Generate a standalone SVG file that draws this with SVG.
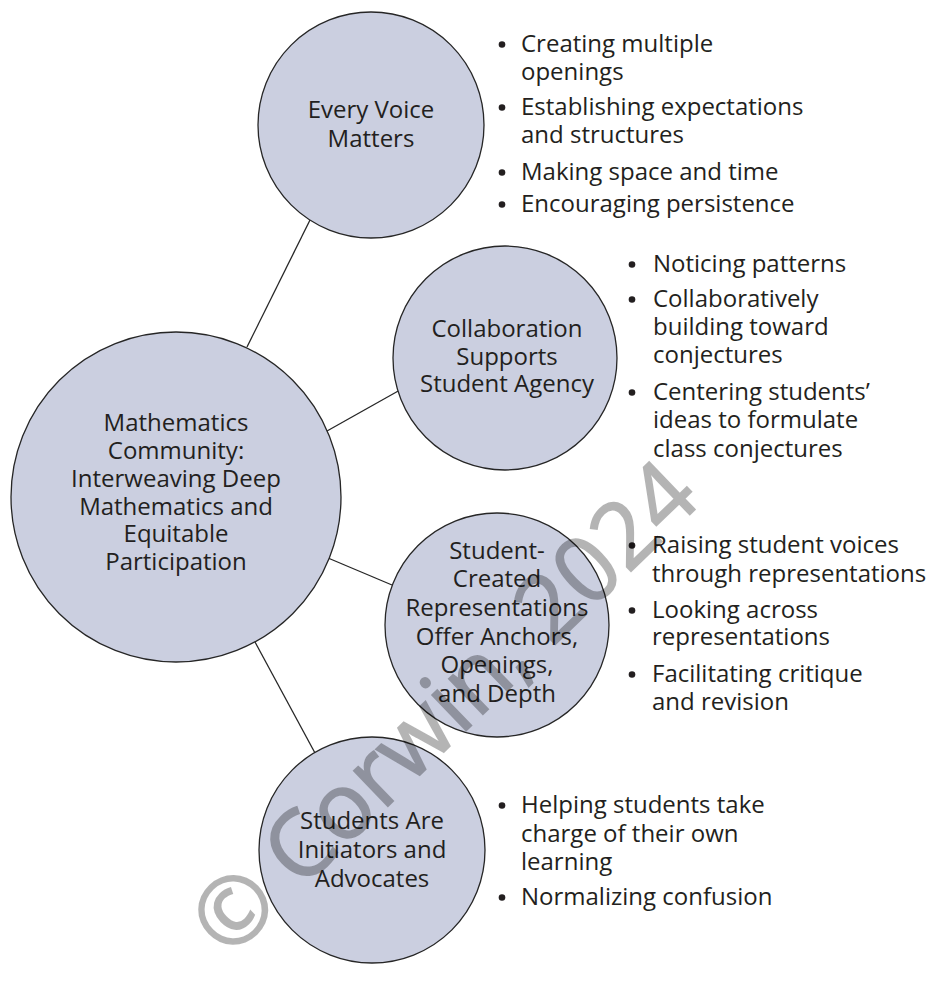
<svg xmlns="http://www.w3.org/2000/svg" width="926" height="986" viewBox="0 0 926 986">
  <style>
    .bg { fill: #ffffff; }
    .node circle { fill: #cbcfe0; stroke: #262626; stroke-width: 1.3; }
    .node text, .notes text { font-family: "Open Sans", "Noto Sans", "DejaVu Sans", sans-serif; font-size: 24px; fill: #231f20; }
    .node text { text-anchor: middle; }
    .notes circle { fill: #231f20; }
    .links line { stroke: #262626; stroke-width: 1.3; }
    .mark text { font-family: "Open Sans", "Noto Sans", "DejaVu Sans", sans-serif; font-size: 92px; fill: #000000; stroke: #000000; stroke-width: 1.6; text-anchor: middle; }
  </style>
  <rect class="bg" x="0" y="0" width="926" height="986"/>

  <!-- connectors from the central circle to each theme -->
  <g id="connectors" class="links">
    <line x1="247" y1="347" x2="310" y2="220"/>
    <line x1="327" y1="431" x2="400" y2="390"/>
    <line x1="328" y1="558" x2="392" y2="585"/>
    <line x1="255" y1="642" x2="315" y2="753"/>
  </g>

  <g id="hub" class="node">
    <circle cx="176" cy="497" r="165"/>
    <text x="176" y="431">Mathematics</text>
    <text x="176" y="459">Community:</text>
    <text x="176" y="487">Interweaving Deep</text>
    <text x="176" y="515">Mathematics and</text>
    <text x="176" y="542">Equitable</text>
    <text x="176" y="570">Participation</text>
  </g>

  <g id="every-voice" class="node">
    <circle cx="371" cy="125" r="113"/>
    <text x="371" y="118">Every Voice</text>
    <text x="371" y="147">Matters</text>
  </g>

  <g id="collaboration" class="node">
    <circle cx="505" cy="358" r="112"/>
    <text x="507" y="337">Collaboration</text>
    <text x="507" y="365">Supports</text>
    <text x="507" y="392">Student Agency</text>
  </g>

  <g id="representations" class="node">
    <circle cx="497" cy="625" r="112"/>
    <text x="497" y="559">Student-</text>
    <text x="497" y="587">Created</text>
    <text x="497" y="616">Representations</text>
    <text x="497" y="645">Offer Anchors,</text>
    <text x="497" y="673">Openings,</text>
    <text x="497" y="702">and Depth</text>
  </g>

  <g id="initiators" class="node">
    <circle cx="372" cy="850" r="113"/>
    <text x="372" y="829">Students Are</text>
    <text x="372" y="858">Initiators and</text>
    <text x="372" y="887">Advocates</text>
  </g>

  <!-- bullet lists beside each theme -->
  <g id="notes-every-voice" class="notes">
    <circle cx="502" cy="44.5" r="3.3"/>
    <text x="521" y="52">Creating multiple</text>
    <text x="521" y="80">openings</text>
    <circle cx="502" cy="107.5" r="3.3"/>
    <text x="521" y="115">Establishing expectations</text>
    <text x="521" y="143">and structures</text>
    <circle cx="502" cy="172.5" r="3.3"/>
    <text x="521" y="180">Making space and time</text>
    <circle cx="502" cy="204.5" r="3.3"/>
    <text x="521" y="212">Encouraging persistence</text>
  </g>

  <g id="notes-collaboration" class="notes">
    <circle cx="632" cy="264.5" r="3.3"/>
    <text x="653" y="272">Noticing patterns</text>
    <circle cx="632" cy="299.5" r="3.3"/>
    <text x="653" y="307">Collaboratively</text>
    <text x="653" y="335">building toward</text>
    <text x="653" y="363">conjectures</text>
    <circle cx="632" cy="392.5" r="3.3"/>
    <text x="653" y="400">Centering students’</text>
    <text x="653" y="428">ideas to formulate</text>
    <text x="653" y="457">class conjectures</text>
  </g>

  <g id="notes-representations" class="notes">
    <circle cx="632" cy="545.5" r="3.3"/>
    <text x="652" y="553">Raising student voices</text>
    <text x="652" y="582">through representations</text>
    <circle cx="632" cy="610.5" r="3.3"/>
    <text x="652" y="618">Looking across</text>
    <text x="652" y="645">representations</text>
    <circle cx="632" cy="674.5" r="3.3"/>
    <text x="652" y="682">Facilitating critique</text>
    <text x="652" y="710">and revision</text>
  </g>

  <g id="notes-initiators" class="notes">
    <circle cx="502" cy="805.5" r="3.3"/>
    <text x="521" y="813">Helping students take</text>
    <text x="521" y="842">charge of their own</text>
    <text x="521" y="870">learning</text>
    <circle cx="502" cy="897.5" r="3.3"/>
    <text x="521" y="905">Normalizing confusion</text>
  </g>

  <!-- copyright mark across the lower half -->
  <g class="mark" opacity="0.29">
    <text transform="translate(443 707) rotate(-44)" x="0" y="33">© Corwin, 2024</text>
  </g>
</svg>
